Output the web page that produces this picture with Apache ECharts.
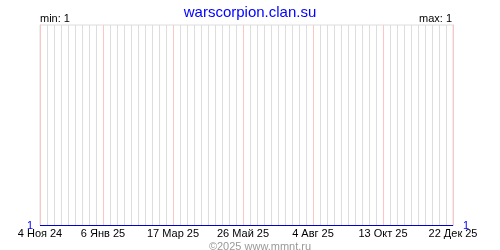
<!DOCTYPE html>
<html><head><meta charset="utf-8">
<script src="https://cdn.jsdelivr.net/npm/echarts@6/dist/echarts.min.js"></script>
<style>html,body{margin:0;padding:0;background:#fff}#c{width:500px;height:250px}</style>
</head><body><div id="c"></div>
<script>
const titleText = 'warscorpion.clan.su';
const footerText = '©2025 www.mmnt.ru';
const startDate = '2024-11-04';
const endDate = '2025-12-22';
const seriesDates = ['2024-11-04', '2025-12-22'];
const seriesValues = [1, 1];
const tickDates = ['2024-11-04','2025-01-06','2025-03-17','2025-05-26','2025-08-04','2025-10-13','2025-12-22'];
const tickLabels = ['4 Ноя 24','6 Янв 25','17 Мар 25','26 Май 25','4 Авг 25','13 Окт 25','22 Дек 25'];
const minLabel = 'min: 1';
const maxLabel = 'max: 1';

const DAY = 86400000;
const WEEK = 7;
const t0 = Date.parse(startDate + 'T00:00:00Z');
const dayOf = s => Math.round((Date.parse(s + 'T00:00:00Z') - t0) / DAY);
const total = dayOf(endDate);
const tickDays = tickDates.map(dayOf);
const labelMap = {};
tickDays.forEach((d, i) => labelMap[d] = tickLabels[i]);
const minV = Math.min(...seriesValues);
const F = 'Liberation Sans, Arial, sans-serif';
const GRAY = '#dddddd', PINK = '#ffc4c4';
const splitColors = [];
for (let d = 0; d <= total; d += WEEK) splitColors.push(labelMap[d] !== undefined ? PINK : GRAY);

const chart = echarts.init(document.getElementById('c'), null, {renderer: 'canvas'});
chart.setOption({
  animation: false,
  backgroundColor: '#fff',
  grid: {left: 40, right: 47, top: 25, bottom: 24.5, show: true, borderColor: GRAY, borderWidth: 1, backgroundColor: 'transparent'},
  title: [
    {text: titleText, left: 'center', top: 0, textStyle: {color: '#0000ff', fontFamily: F, fontSize: 15, fontWeight: 'normal'}},
    {text: footerText, left: 255, textAlign: 'center', top: 236, textStyle: {color: '#999999', fontFamily: F, fontSize: 11, fontWeight: 'normal'}}
  ],
  graphic: [
    {type: 'text', left: 40, top: 13, style: {text: minLabel, fill: '#000', font: '11px ' + F}},
    {type: 'text', right: 48, top: 13, style: {text: maxLabel, fill: '#000', font: '11px ' + F}}
  ],
  xAxis: {
    type: 'value', min: 0, max: total, interval: WEEK,
    axisLine: {show: false}, axisTick: {show: false},
    splitLine: {show: true, lineStyle: {color: splitColors, width: 1}},
    axisLabel: {
      show: true, margin: 3, hideOverlap: false, showMinLabel: true, showMaxLabel: true,
      color: '#000', fontFamily: F, fontSize: 11,
      formatter: v => labelMap[v] !== undefined ? labelMap[v] : ''
    }
  },
  yAxis: [
    {type: 'value', min: minV, max: minV + 1, position: 'left',
     axisLine: {show: true, lineStyle: {color: PINK, width: 1}}, axisTick: {show: false}, splitLine: {show: false},
     axisLabel: {margin: 7, color: '#0000ff', fontFamily: F, fontSize: 11, formatter: v => v === minV ? String(minV) : ''}},
    {type: 'value', min: minV, max: minV + 1, position: 'right',
     axisLine: {show: true, lineStyle: {color: PINK, width: 1}}, axisTick: {show: false}, splitLine: {show: false},
     axisLabel: {margin: 10, color: '#0000ff', fontFamily: F, fontSize: 11, formatter: v => v === minV ? String(minV) : ''}}
  ],
  series: [{
    type: 'line', yAxisIndex: 0,
    data: seriesDates.map((d, i) => [dayOf(d), seriesValues[i]]),
    symbol: 'none', lineStyle: {color: '#0000cc', width: 1}, z: 5
  }]
});
</script></body></html>
